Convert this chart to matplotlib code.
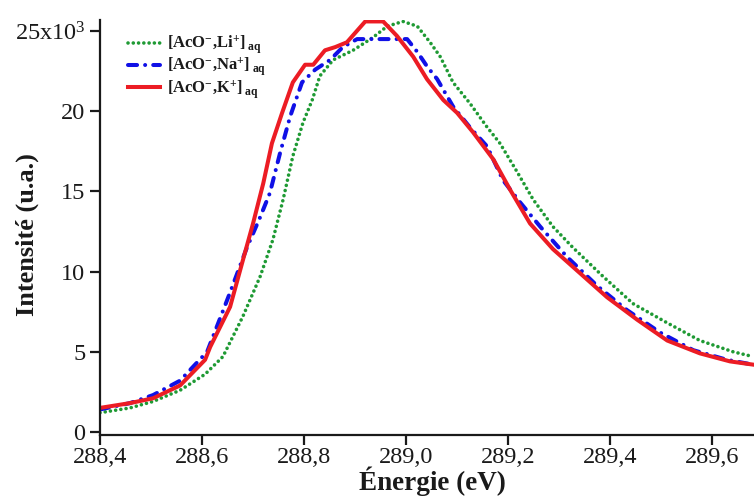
import matplotlib
matplotlib.use("Agg")
import matplotlib.pyplot as plt
from matplotlib.ticker import FixedLocator, FixedFormatter

# ---------------- data ----------------
x_k = [288.400, 288.459, 288.504, 288.557, 288.606, 288.616, 288.655, 288.680, 288.700,
       288.720, 288.737, 288.757, 288.778, 288.802, 288.818, 288.841, 288.861, 288.884,
       288.920, 288.955, 288.982, 289.014, 289.041, 289.073, 289.100, 289.131, 289.171,
       289.204, 289.243, 289.288, 289.341, 289.394, 289.453, 289.512, 289.576, 289.635, 289.680]
y_k = [1.5, 1.8, 2.1, 2.9, 4.5, 5.3, 7.8, 10.7, 13.0,
       15.5, 18.0, 19.9, 21.8, 22.9, 22.9, 23.8, 24.0, 24.3,
       25.6, 25.6, 24.7, 23.4, 22.0, 20.7, 19.9, 18.7, 17.0,
       15.1, 13.0, 11.4, 9.9, 8.4, 7.0, 5.7, 4.9, 4.4, 4.2]

x_na = [288.400, 288.459, 288.504, 288.557, 288.610, 288.655, 288.688, 288.714, 288.733,
        288.753, 288.773, 288.796, 288.822, 288.851, 288.876, 288.904, 289.002, 289.022,
        289.041, 289.061, 289.092, 289.125, 289.159, 289.190, 289.224, 289.263, 289.316,
        289.375, 289.433, 289.498, 289.563, 289.629, 289.680]
y_na = [1.4, 1.8, 2.3, 3.2, 5.0, 8.7, 11.5, 13.4, 14.9,
        17.4, 19.7, 21.8, 22.6, 23.2, 24.0, 24.5, 24.5, 23.7,
        22.8, 22.0, 20.3, 19.0, 17.8, 15.7, 14.3, 12.8, 10.9,
        9.1, 7.6, 6.2, 5.1, 4.5, 4.2]

x_li = [288.400, 288.459, 288.504, 288.557, 288.606, 288.641, 288.680, 288.714, 288.739,
        288.759, 288.778, 288.798, 288.816, 288.831, 288.857, 288.896, 288.935, 288.963,
        288.994, 289.022, 289.047, 289.067, 289.092, 289.125, 289.159, 289.184, 289.218,
        289.249, 289.288, 289.327, 289.386, 289.445, 289.512, 289.576, 289.641, 289.680]
y_li = [1.2, 1.5, 1.9, 2.6, 3.6, 4.7, 7.2, 9.7, 12.0,
        14.5, 17.2, 19.3, 20.7, 22.2, 23.2, 23.8, 24.6, 25.3,
        25.6, 25.3, 24.3, 23.4, 21.8, 20.5, 19.0, 18.0, 16.2,
        14.5, 12.8, 11.5, 9.7, 8.0, 6.8, 5.7, 5.0, 4.7]

x_ticks = [288.4, 288.6, 288.8, 289.0, 289.2, 289.4, 289.6]
x_tick_labels = ["288,4", "288,6", "288,8", "289,0", "289,2", "289,4", "289,6"]
y_ticks = [0, 5, 10, 15, 20, 25]
y_tick_labels = ["0", "5", "10", "15", "20", r"25x10$^{3}$"]

labels = [r"$\mathbf{[AcO^{-}{,}Li^{+}]}_{\ \mathbf{aq}}$",
          r"$\mathbf{[AcO^{-}{,}Na^{+}]}_{\ \mathbf{aq}}$",
          r"$\mathbf{[AcO^{-}{,}K^{+}]}_{\ \mathbf{aq}}$"]

# ---------------- style ----------------
plt.rcParams['font.family'] = ['Liberation Serif', 'DejaVu Serif']
plt.rcParams['mathtext.fontset'] = 'custom'
plt.rcParams['mathtext.rm'] = 'Liberation Serif'
plt.rcParams['mathtext.it'] = 'Liberation Serif:italic'
plt.rcParams['mathtext.bf'] = 'Liberation Serif:bold'

W, H = 754, 499
fig = plt.figure(figsize=(W / 100, H / 100), dpi=100)
ax = fig.add_axes([100 / W, 1 - 435 / H, 1 - 100 / W, (435 - 20) / H])

green = '#1f9a34'
blue = '#1010e6'
red = '#ec1c24'
ink = '#1a1a1a'

ax.plot(x_li, y_li, color=green, lw=2.6, linestyle=(0, (0.01, 1.45)),
        dash_capstyle='round', label=labels[0])
ax.plot(x_na, y_na, color=blue, lw=2.9, linestyle=(0, (2.25, 2.0, 0.01, 2.0)),
        dash_capstyle='round', label=labels[1])
ax.plot(x_k, y_k, color=red, lw=2.9, linestyle='-', solid_joinstyle='round',
        label=labels[2])

ax.set_xlim(288.4, 289.682)
ax.set_ylim(-0.19, 25.69)

ax.xaxis.set_major_locator(FixedLocator(x_ticks))
ax.xaxis.set_major_formatter(FixedFormatter(x_tick_labels))
ax.yaxis.set_major_locator(FixedLocator(y_ticks))
ax.yaxis.set_major_formatter(FixedFormatter(y_tick_labels))

for s in ['top', 'right']:
    ax.spines[s].set_visible(False)
for s in ['left', 'bottom']:
    ax.spines[s].set_linewidth(1.6)
    ax.spines[s].set_color(ink)

ax.tick_params(axis='both', direction='out', length=7, width=1.6, color=ink,
               labelsize=17.5, labelcolor=ink)
ax.tick_params(axis='y', pad=3.5)
ax.tick_params(axis='x', pad=1.5)

fig.text(432 / W, 1 - 481 / H, "Énergie (eV)", fontsize=19.5, fontweight='bold',
         color=ink, ha='center', va='center')
fig.text(27 / W, 1 - 235 / H, "Intensité (u.a.)", fontsize=19, fontweight='bold',
         color=ink, ha='center', va='center', rotation=90)

leg = ax.legend(loc='upper left', bbox_to_anchor=(28 / 654, 1.0 - 14 / 415), frameon=False,
                fontsize=12, handlelength=1.9, handletextpad=0.45, labelspacing=0.0,
                borderaxespad=0.0, borderpad=0.0)
for t in leg.get_texts():
    t.set_color(ink)

fig.savefig("out.png", dpi=100)
